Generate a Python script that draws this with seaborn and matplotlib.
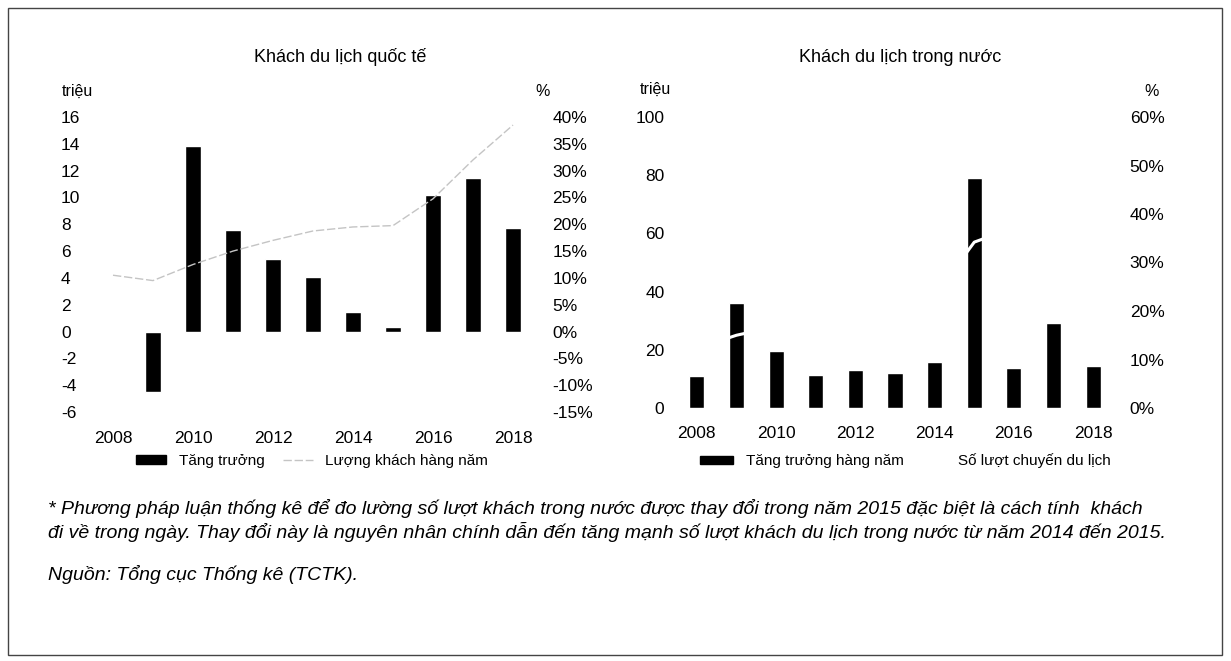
import matplotlib
matplotlib.use("Agg")
import matplotlib.pyplot as plt
import seaborn as sns
import pandas as pd
from matplotlib.patches import Patch, Rectangle
from matplotlib.lines import Line2D

# ── DATA ─────────────────────────────────────────────────────────────────────
years_intl = [2009, 2010, 2011, 2012, 2013, 2014, 2015, 2016, 2017, 2018]
growth_intl = [-11.3, 34.6, 19.0, 13.6, 10.2, 3.7, 0.8, 25.4, 28.6, 19.3]   # %
line_years_intl = [2008, 2009, 2010, 2011, 2012, 2013, 2014, 2015, 2016, 2017, 2018]
visitors_intl = [4.2, 3.8, 5.0, 6.0, 6.8, 7.5, 7.8, 7.9, 9.9, 12.8, 15.4]   # triệu

years_dom = [2008, 2009, 2010, 2011, 2012, 2013, 2014, 2015, 2016, 2017, 2018]
growth_dom = [6.6, 21.6, 11.7, 6.9, 7.9, 7.2, 9.4, 47.4, 8.2, 17.5, 8.7]     # %
trips_dom = [20.5, 25.0, 28.0, 30.0, 32.5, 35.0, 38.5, 57.0, 62.0, 73.2, 80.0]  # triệu

xticks = [2008, 2010, 2012, 2014, 2016, 2018]
yticks_intl_left = [16, 14, 12, 10, 8, 6, 4, 2, 0, -2, -4, -6]
yticks_intl_right = [40, 35, 30, 25, 20, 15, 10, 5, 0, -5, -10, -15]
yticks_dom_left = [100, 80, 60, 40, 20, 0]
yticks_dom_right = [60, 50, 40, 30, 20, 10, 0]

df_bar_intl = pd.DataFrame({"year": years_intl, "growth": growth_intl})
df_line_intl = pd.DataFrame({"year": line_years_intl, "visitors": visitors_intl})
df_bar_dom = pd.DataFrame({"year": years_dom, "growth": growth_dom})
df_line_dom = pd.DataFrame({"year": years_dom, "trips": trips_dom})

# ── STYLE ────────────────────────────────────────────────────────────────────
sns.set_theme(style="white")
plt.rcParams["font.family"] = ["Liberation Sans Narrow", "Liberation Sans", "DejaVu Sans"]
plt.rcParams["text.color"] = "black"
plt.rcParams["xtick.color"] = "black"
plt.rcParams["ytick.color"] = "black"

fig = plt.figure(figsize=(12.31, 6.61), dpi=100)

TICK_FS = 12.5
LINE_GREY = "#c4c4c4"


def style_axes(ax):
    for s in ax.spines.values():
        s.set_visible(False)
    ax.tick_params(length=0, labelsize=TICK_FS, labelcolor="black")
    ax.grid(False)
    ax.set_xlabel("")
    ax.set_ylabel("")


# ── LEFT CHART: international ────────────────────────────────────────────────
ax1 = fig.add_axes([93 / 1231, 1 - 412 / 661, 440 / 1231, 295 / 661])
ax1b = ax1.twinx()

sns.barplot(data=df_bar_intl, x="year", y="growth", native_scale=True,
            color="black", width=0.4, saturation=1, ax=ax1)
sns.lineplot(data=df_line_intl, x="year", y="visitors", color=LINE_GREY,
             lw=1.0, linestyle=(0, (6, 2)), ax=ax1b)

ax1.set_xlim(2007.5, 2018.5)
ax1.set_ylim(-15, 40)
ax1.set_yticks(yticks_intl_right)
ax1.set_yticklabels([f"{v}%" for v in yticks_intl_right])
ax1.set_xticks(xticks)
ax1.set_xticklabels([str(y) for y in xticks])
style_axes(ax1)
ax1.yaxis.set_ticks_position("right")
ax1.tick_params(axis="y", pad=14)
ax1.tick_params(axis="x", pad=14)

ax1b.set_ylim(-6, 16)
ax1b.set_yticks(yticks_intl_left)
ax1b.set_yticklabels([str(v) for v in yticks_intl_left])
style_axes(ax1b)
ax1b.yaxis.set_ticks_position("left")
ax1b.tick_params(axis="y", pad=23)
for lbl in ax1b.get_yticklabels():
    lbl.set_horizontalalignment("left")

# ── RIGHT CHART: domestic ────────────────────────────────────────────────────
ax2 = fig.add_axes([677 / 1231, 1 - 408 / 661, 436 / 1231, 291 / 661])
ax2b = ax2.twinx()

sns.barplot(data=df_bar_dom, x="year", y="growth", native_scale=True,
            color="black", width=0.38, saturation=1, ax=ax2)
sns.lineplot(data=df_line_dom, x="year", y="trips", color="white", lw=2.2, ax=ax2b)

ax2.set_xlim(2007.5, 2018.5)
ax2.set_ylim(0, 60)
ax2.set_yticks(yticks_dom_right)
ax2.set_yticklabels([f"{v}%" for v in yticks_dom_right])
ax2.set_xticks(xticks)
ax2.set_xticklabels([str(y) for y in xticks])
style_axes(ax2)
ax2.yaxis.set_ticks_position("right")
ax2.tick_params(axis="y", pad=12)
ax2.tick_params(axis="x", pad=13)

ax2b.set_ylim(0, 100)
ax2b.set_yticks(yticks_dom_left)
ax2b.set_yticklabels([str(v) for v in yticks_dom_left])
style_axes(ax2b)
ax2b.yaxis.set_ticks_position("left")
ax2b.tick_params(axis="y", pad=9)

# ── TITLES / UNIT LABELS ─────────────────────────────────────────────────────
fig.text(340 / 1231, 1 - 57 / 661, "Khách du lịch quốc tế", ha="center", va="center", fontsize=13)
fig.text(900 / 1231, 1 - 57 / 661, "Khách du lịch trong nước", ha="center", va="center", fontsize=13)
fig.text(62 / 1231, 1 - 91 / 661, "triệu", ha="left", va="center", fontsize=11.5)
fig.text(535 / 1231, 1 - 91 / 661, "%", ha="left", va="center", fontsize=11.5)
fig.text(640 / 1231, 1 - 89 / 661, "triệu", ha="left", va="center", fontsize=11.5)
fig.text(1144 / 1231, 1 - 92 / 661, "%", ha="left", va="center", fontsize=11.5)

# ── LEGENDS ──────────────────────────────────────────────────────────────────
h_left = [Patch(facecolor="black", edgecolor="black"),
          Line2D([0], [0], color=LINE_GREY, lw=1.0, linestyle=(0, (6, 2)))]
fig.legend(h_left, ["Tăng trưởng", "Lượng khách hàng năm"], loc="center left",
           bbox_to_anchor=(122 / 1231, 1 - 461 / 661), ncol=2, frameon=False,
           fontsize=11, handlelength=2.0, handleheight=0.45, columnspacing=1.2,
           handletextpad=0.8)
h_right = [Patch(facecolor="black", edgecolor="black"),
           Line2D([0], [0], color="white", lw=2.2)]
fig.legend(h_right, ["Tăng trưởng hàng năm", "Số lượt chuyến du lịch"], loc="center left",
           bbox_to_anchor=(686 / 1231, 1 - 461 / 661), ncol=2, frameon=False,
           fontsize=11, handlelength=2.2, handleheight=0.45, columnspacing=0.6,
           handletextpad=0.8)

# ── FOOTNOTE ─────────────────────────────────────────────────────────────────
note1 = ("* Phương pháp luận thống kê để đo lường số lượt khách trong nước được thay đổi "
         "trong năm 2015 đặc biệt là cách tính  khách")
note2 = ("đi về trong ngày. Thay đổi này là nguyên nhân chính dẫn đến tăng mạnh số lượt "
         "khách du lịch trong nước từ năm 2014 đến 2015.")
NOTE_FS = 14
fig.text(48 / 1231, 1 - 509 / 661, note1, ha="left", va="center", fontsize=NOTE_FS, style="italic")
fig.text(48 / 1231, 1 - 532 / 661, note2, ha="left", va="center", fontsize=NOTE_FS, style="italic")
fig.text(48 / 1231, 1 - 574 / 661, "Nguồn: Tổng cục Thống kê (TCTK).", ha="left", va="center",
         fontsize=NOTE_FS, style="italic")

# frame
fig.add_artist(Rectangle((8 / 1231, 6 / 661), 1214 / 1231, 647 / 661, transform=fig.transFigure,
                         fill=False, edgecolor="#444444", lw=1))

fig.savefig("out.png", dpi=100)
